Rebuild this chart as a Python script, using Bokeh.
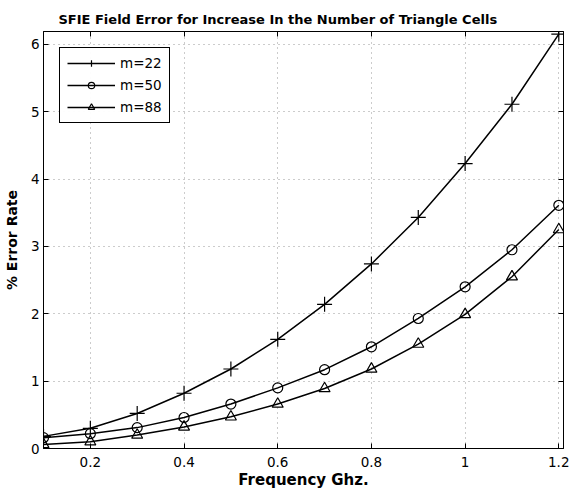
from bokeh.plotting import figure
from bokeh.models import (Range1d, LinearAxis, FixedTicker, NumeralTickFormatter,
                          CustomJSTickFormatter, Legend, LegendItem, Title)
from bokeh.embed import file_html
from bokeh.resources import INLINE

freq = [0.1, 0.2, 0.3, 0.4, 0.5, 0.6, 0.7, 0.8, 0.9, 1.0, 1.1, 1.2]
m22 = [0.18, 0.30, 0.52, 0.82, 1.18, 1.62, 2.14, 2.74, 3.43, 4.23, 5.11, 6.15]
m50 = [0.16, 0.22, 0.31, 0.46, 0.66, 0.90, 1.17, 1.51, 1.93, 2.40, 2.95, 3.61]
m88 = [0.06, 0.10, 0.20, 0.32, 0.47, 0.66, 0.89, 1.18, 1.55, 1.99, 2.55, 3.25]
x_ticks = [0.2, 0.4, 0.6, 0.8, 1.0, 1.2]
y_ticks = [0, 1, 2, 3, 4, 5, 6]
labels = ["m=22", "m=50", "m=88"]

FONT = "DejaVu Sans"

p = figure(width=569, height=491, output_backend="svg", toolbar_location=None,
           x_range=Range1d(0.1, 1.21), y_range=Range1d(0, 6.19),
           min_border_left=36, min_border_right=6, min_border_top=31,
           min_border_bottom=42)
p.title = Title(text="SFIE Field Error for Increase In the Number of Triangle Cells",
                text_font=FONT, text_font_size="13px", text_font_style="bold",
                align="left", offset=15, text_color="black")

p.outline_line_color = "black"
p.outline_line_width = 1
p.outline_line_alpha = 1

for ax in (p.xaxis[0], p.yaxis[0]):
    ax.major_tick_in = 5
    ax.major_tick_out = 0
    ax.minor_tick_line_color = None
    ax.axis_line_color = "black"
    ax.major_label_text_font = FONT
    ax.major_label_text_font_size = "13.5px"
    ax.major_label_text_color = "black"
    ax.axis_label_text_font = FONT
    ax.axis_label_text_font_style = "bold"
    ax.axis_label_text_color = "black"

p.xaxis[0].axis_label_text_font_size = "15px"
p.yaxis[0].axis_label_text_font_size = "14px"
p.xaxis[0].ticker = FixedTicker(ticks=x_ticks)
p.yaxis[0].ticker = FixedTicker(ticks=y_ticks)
p.xaxis[0].formatter = NumeralTickFormatter(format="0.[0]")
p.yaxis[0].formatter = NumeralTickFormatter(format="0")
p.xaxis[0].axis_label = "Frequency Ghz."
p.yaxis[0].axis_label = "% Error Rate"
p.xaxis[0].major_label_standoff = 8
p.xaxis[0].axis_label_standoff = 1
p.yaxis[0].major_label_standoff = 4
p.yaxis[0].axis_label_standoff = 8

blank = CustomJSTickFormatter(code="return '';")
top = LinearAxis(ticker=FixedTicker(ticks=x_ticks), formatter=blank,
                 major_tick_in=5, major_tick_out=0, minor_tick_line_color=None,
                 axis_line_color="black", major_label_standoff=0)
right = LinearAxis(ticker=FixedTicker(ticks=y_ticks), formatter=blank,
                   major_tick_in=5, major_tick_out=0, minor_tick_line_color=None,
                   axis_line_color="black", major_label_standoff=0)
p.add_layout(top, "above")
p.add_layout(right, "right")

p.xgrid.ticker = FixedTicker(ticks=x_ticks)
p.ygrid.ticker = FixedTicker(ticks=y_ticks)
for g in (p.xgrid[0], p.ygrid[0]):
    g.grid_line_color = "#999999"
    g.grid_line_dash = "1 4"
    g.grid_line_width = 1

l1 = p.line(freq, m22, line_color="black", line_width=1.5)
s1 = p.scatter(freq, m22, marker="cross", size=15, line_color="black", line_width=1.2,
               fill_color=None)
l2 = p.line(freq, m50, line_color="black", line_width=1.5)
s2 = p.scatter(freq, m50, marker="circle", size=10, line_color="black", line_width=1.2,
               fill_color=None)
l3 = p.line(freq, m88, line_color="black", line_width=1.5)
s3 = p.scatter(freq, m88, marker="triangle", size=11, line_color="black", line_width=1.2,
               fill_color=None)

legend = Legend(items=[LegendItem(label=labels[0], renderers=[l1, s1]),
                       LegendItem(label=labels[1], renderers=[l2, s2]),
                       LegendItem(label=labels[2], renderers=[l3, s3])],
                location="top_left")
legend.glyph_width = 48
legend.glyph_height = 16
legend.label_height = 16
legend.label_text_font = FONT
legend.label_text_font_size = "13.5px"
legend.label_text_color = "black"
legend.border_line_color = "black"
legend.border_line_width = 1
legend.border_line_alpha = 1
legend.spacing = 6
legend.padding = 7
legend.margin = 16
legend.label_standoff = 5
p.add_layout(legend)

open("out.html", "w").write(file_html(p, INLINE))
